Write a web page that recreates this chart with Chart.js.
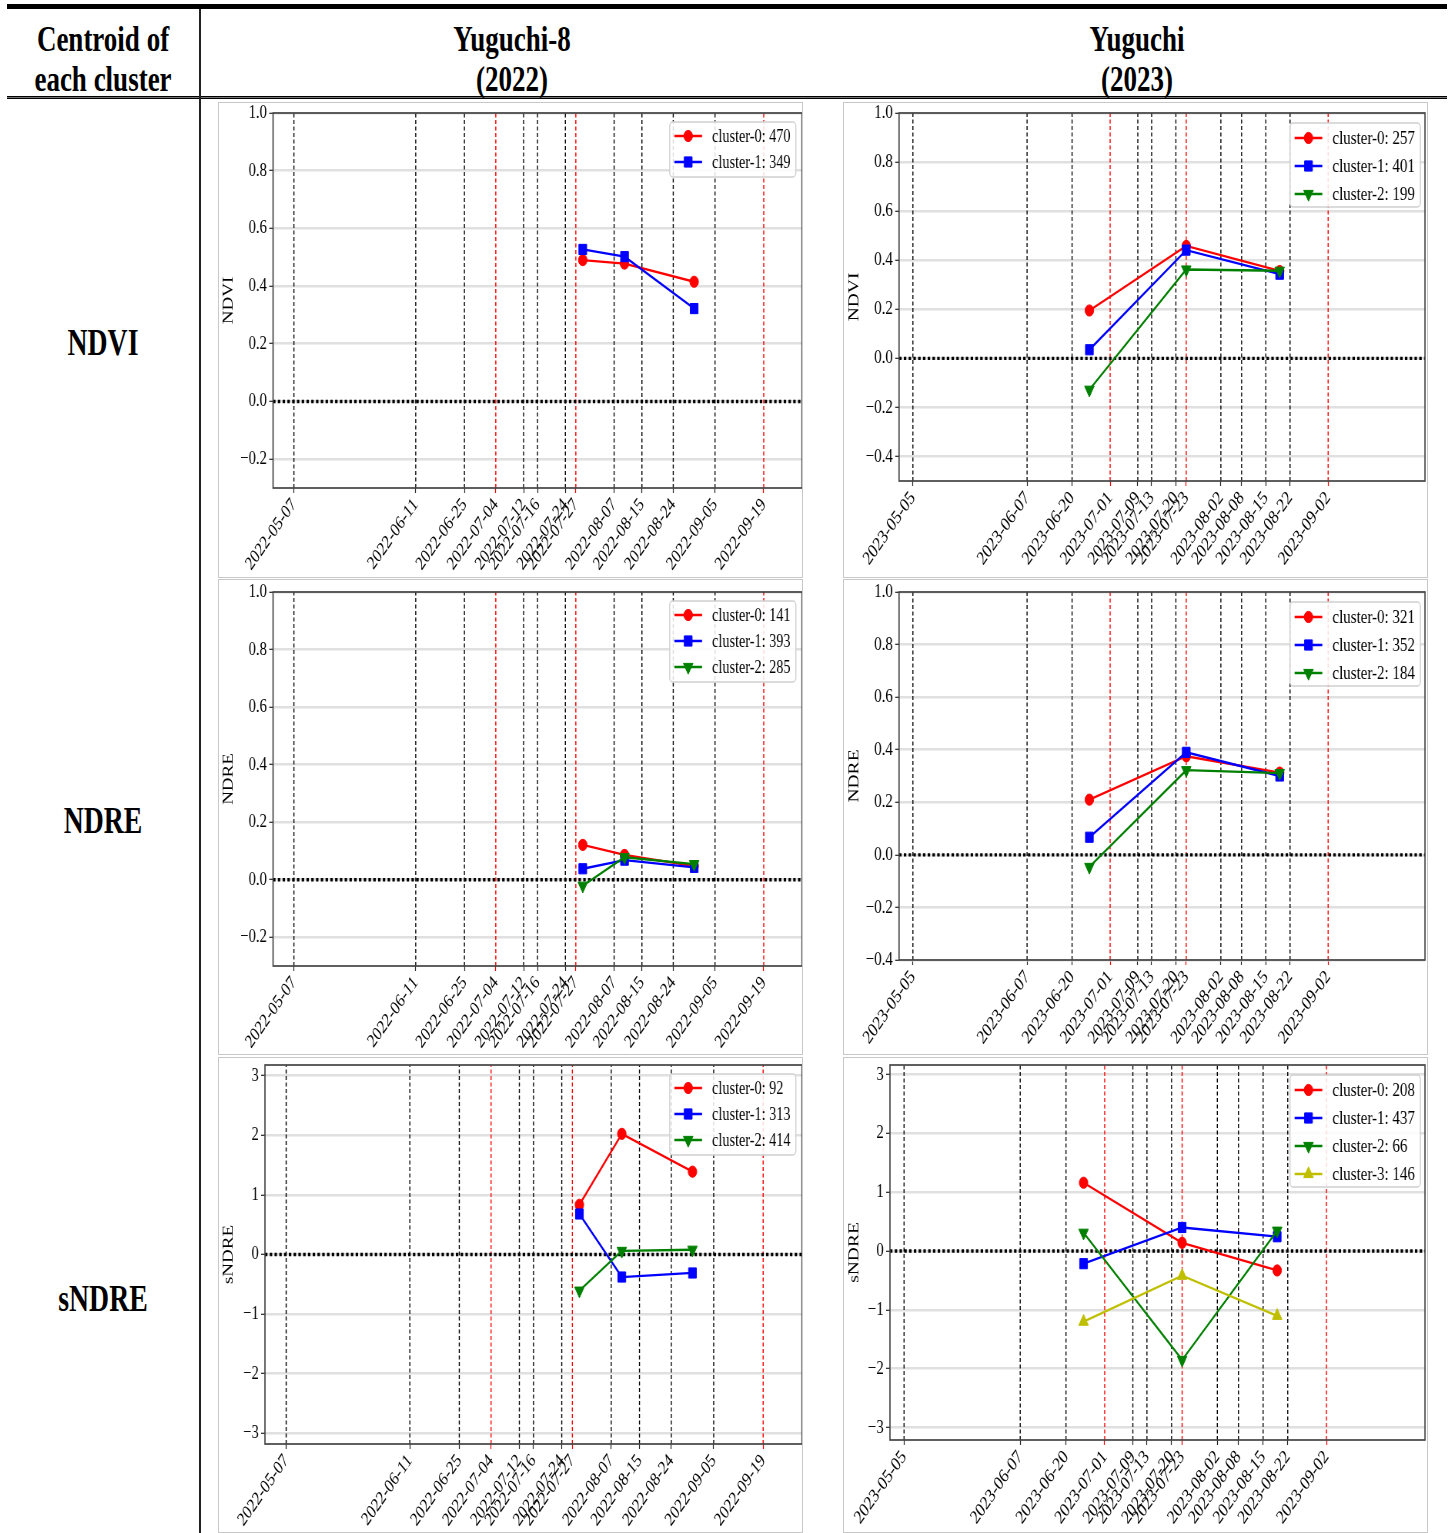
<!DOCTYPE html>
<html><head><meta charset="utf-8">
<script src="https://cdn.jsdelivr.net/npm/chart.js"></script>
<style>
html,body{margin:0;padding:0;background:#fff;}
body{width:1452px;height:1533px;position:relative;overflow:hidden;font-family:"Liberation Serif","Times New Roman",serif;color:#000;}
.rule{position:absolute;background:#000;}
.hd{position:absolute;font-weight:bold;font-size:36px;line-height:36px;white-space:nowrap;transform:translate(-50%,-50%) scaleX(0.75);}
.panel{position:absolute;width:585px;height:475px;overflow:hidden;}
.inner{position:absolute;left:0;top:0;width:760px;height:475px;transform:scaleX(0.769737);transform-origin:0 0;}
.frame{position:absolute;width:585px;height:476px;box-sizing:border-box;border:1.5px solid #c8c8c8;}
</style></head>
<body>
<div class="rule" style="left:7px;top:4px;width:1440px;height:5px"></div>
<div class="rule" style="left:7px;top:96px;width:1440px;height:1px"></div>
<div class="rule" style="left:7px;top:97px;width:1440px;height:1px;background:#777"></div>
<div class="rule" style="left:7px;top:98px;width:1440px;height:1px"></div>
<div class="rule" style="left:199px;top:9px;width:1.5px;height:1524px;background:#222"></div>

<div class="hd" style="left:103px;top:39px">Centroid of</div>
<div class="hd" style="left:103px;top:79px">each cluster</div>
<div class="hd" style="left:512px;top:39px">Yuguchi-8</div>
<div class="hd" style="left:512px;top:79px">(2022)</div>
<div class="hd" style="left:1137px;top:39px">Yuguchi</div>
<div class="hd" style="left:1137px;top:79px">(2023)</div>
<div class="hd" style="left:103px;top:343px;font-size:37px">NDVI</div>
<div class="hd" style="left:103px;top:821px;font-size:37px">NDRE</div>
<div class="hd" style="left:103px;top:1299px;font-size:37px">sNDRE</div>

<div class="panel" style="left:218px;top:103px"><div class="inner"><canvas id="cA" width="760" height="475"></canvas></div></div>
<div class="panel" style="left:843px;top:103px"><div class="inner"><canvas id="cB" width="760" height="475"></canvas></div></div>
<div class="panel" style="left:218px;top:580px"><div class="inner"><canvas id="cC" width="760" height="475"></canvas></div></div>
<div class="panel" style="left:843px;top:580px"><div class="inner"><canvas id="cD" width="760" height="475"></canvas></div></div>
<div class="panel" style="left:218px;top:1058px"><div class="inner"><canvas id="cE" width="760" height="475"></canvas></div></div>
<div class="panel" style="left:843px;top:1058px"><div class="inner"><canvas id="cF" width="760" height="475"></canvas></div></div>
<div class="frame" style="left:218px;top:102px"></div>
<div class="frame" style="left:843px;top:102px"></div>
<div class="frame" style="left:218px;top:579px"></div>
<div class="frame" style="left:843px;top:579px"></div>
<div class="frame" style="left:218px;top:1057px"></div>
<div class="frame" style="left:843px;top:1057px"></div>

<script>
// ---------------- DATA ----------------
const DATES_2022 = ['2022-07-29', '2022-08-10', '2022-08-30'];
const DATES_2023 = ['2023-06-25', '2023-07-23', '2023-08-19'];

const X_TICKS_2022 = ['2022-05-07','2022-06-11','2022-06-25','2022-07-04','2022-07-12','2022-07-16','2022-07-24','2022-07-27','2022-08-07','2022-08-15','2022-08-24','2022-09-05','2022-09-19'];
const RED_DATES_2022 = ['2022-07-04','2022-07-27','2022-09-19'];
const X_TICKS_2023 = ['2023-05-05','2023-06-07','2023-06-20','2023-07-01','2023-07-09','2023-07-13','2023-07-20','2023-07-23','2023-08-02','2023-08-08','2023-08-15','2023-08-22','2023-09-02'];
const RED_DATES_2023 = ['2023-07-01','2023-07-23','2023-09-02'];
const X_RANGE_2022 = ['2022-05-01', '2022-09-30'];
const X_RANGE_2023 = ['2023-05-01', '2023-09-30'];

const Y_TICKS_A = [-0.2, 0.0, 0.2, 0.4, 0.6, 0.8, 1.0];
const Y_TICKS_B = [-0.4, -0.2, 0.0, 0.2, 0.4, 0.6, 0.8, 1.0];
const Y_TICKS_S = [-3, -2, -1, 0, 1, 2, 3];

const NDVI_2022_LABELS = ['cluster-0: 470', 'cluster-1: 349'];
const NDVI_2022_C0 = [0.490, 0.478, 0.415];
const NDVI_2022_C1 = [0.527, 0.502, 0.322];

const NDVI_2023_LABELS = ['cluster-0: 257', 'cluster-1: 401', 'cluster-2: 199'];
const NDVI_2023_C0 = [0.195, 0.458, 0.356];
const NDVI_2023_C1 = [0.035, 0.441, 0.343];
const NDVI_2023_C2 = [-0.128, 0.362, 0.357];

const NDRE_2022_LABELS = ['cluster-0: 141', 'cluster-1: 393', 'cluster-2: 285'];
const NDRE_2022_C0 = [0.121, 0.086, 0.047];
const NDRE_2022_C1 = [0.038, 0.068, 0.043];
const NDRE_2022_C2 = [-0.021, 0.078, 0.054];

const NDRE_2023_LABELS = ['cluster-0: 321', 'cluster-1: 352', 'cluster-2: 184'];
const NDRE_2023_C0 = [0.210, 0.375, 0.313];
const NDRE_2023_C1 = [0.067, 0.390, 0.300];
const NDRE_2023_C2 = [-0.046, 0.322, 0.311];

const SNDRE_2022_LABELS = ['cluster-0: 92', 'cluster-1: 313', 'cluster-2: 414'];
const SNDRE_2022_C0 = [0.835, 2.025, 1.390];
const SNDRE_2022_C1 = [0.680, -0.378, -0.310];
const SNDRE_2022_C2 = [-0.607, 0.060, 0.080];

const SNDRE_2023_LABELS = ['cluster-0: 208', 'cluster-1: 437', 'cluster-2: 66', 'cluster-3: 146'];
const SNDRE_2023_C0 = [1.160, 0.140, -0.330];
const SNDRE_2023_C1 = [-0.215, 0.400, 0.243];
const SNDRE_2023_C2 = [0.310, -1.850, 0.345];
const SNDRE_2023_C3 = [-1.200, -0.420, -1.100];

// ---------------- STYLE ----------------
const COLORS = ['#ff0000', '#0000ff', '#008000', '#bfbf00'];
const POINT_STYLES = ['circle', 'rect', 'triangle', 'triangle'];
const POINT_ROT = [0, 0, 180, 0];
const POINT_R = [5.6, 7.2, 7.2, 7.2];
const FONT = '"Liberation Serif", "Times New Roman", serif';

function toDay(s) {
  return Date.UTC(+s.slice(0, 4), +s.slice(5, 7) - 1, +s.slice(8, 10)) / 86400000;
}
function fmtY(v, dec) {
  const t = Math.abs(v).toFixed(dec);
  return (v < -1e-9 ? '\u2212' : '') + t;
}

const framePlugin = {
  id: 'frameBox',
  afterDatasetsDraw(chart) {
    const ca = chart.chartArea, ctx = chart.ctx;
    ctx.save();
    ctx.strokeStyle = '#444';
    ctx.lineWidth = 1.7;
    ctx.strokeRect(ca.left, ca.top, ca.right - ca.left, ca.bottom - ca.top);
    ctx.restore();
  }
};

const legendPlugin = {
  id: 'boxLegend',
  afterDraw(chart) {
    const o = chart.options.plugins.boxLegend;
    const ctx = chart.ctx, ca = chart.chartArea;
    const items = chart.data.datasets.filter(d => d.inLegend);
    ctx.save();
    ctx.font = o.fs + 'px ' + FONT;
    const tw = Math.max(...items.map(d => ctx.measureText(d.label).width));
    const padL = 6, handle = 36, gap = 13, padR = 7;
    const w = padL + handle + gap + tw + padR;
    const h = o.first + (items.length - 1) * o.row + o.last;
    const x = ca.right - o.mr - w, y = ca.top + o.mt;
    const r = 4;
    ctx.beginPath();
    ctx.moveTo(x + r, y); ctx.lineTo(x + w - r, y); ctx.arcTo(x + w, y, x + w, y + r, r);
    ctx.lineTo(x + w, y + h - r); ctx.arcTo(x + w, y + h, x + w - r, y + h, r);
    ctx.lineTo(x + r, y + h); ctx.arcTo(x, y + h, x, y + h - r, r);
    ctx.lineTo(x, y + r); ctx.arcTo(x, y, x + r, y, r); ctx.closePath();
    ctx.fillStyle = 'rgba(255,255,255,0.85)'; ctx.fill();
    ctx.strokeStyle = '#d0d0d0'; ctx.lineWidth = 1.4; ctx.stroke();
    items.forEach((d, i) => {
      const cy = y + o.first + i * o.row;
      ctx.strokeStyle = d.borderColor; ctx.lineWidth = d.borderWidth;
      ctx.beginPath(); ctx.moveTo(x + padL, cy); ctx.lineTo(x + padL + handle, cy); ctx.stroke();
      ctx.fillStyle = d.backgroundColor; ctx.strokeStyle = d.borderColor; ctx.lineWidth = 1;
      Chart.helpers.drawPoint(ctx, {pointStyle: d.pointStyle, rotation: d.pointRotation || 0, radius: d.pointRadius, borderWidth: 1}, x + padL + handle / 2, cy);
      ctx.fillStyle = '#000'; ctx.textAlign = 'left'; ctx.textBaseline = 'middle';
      ctx.fillText(d.label, x + padL + handle + gap, cy + 1);
    });
    ctx.restore();
  }
};

function makeChart(spec) {
  const xmin = toDay(spec.xr[0]), xmax = toDay(spec.xr[1]);
  const datasets = [];
  spec.series.forEach((vals, i) => {
    datasets.push({
      label: spec.labels[i], inLegend: true,
      data: spec.dates.map((d, j) => ({x: toDay(d), y: vals[j]})),
      borderColor: COLORS[i], backgroundColor: COLORS[i],
      pointBackgroundColor: COLORS[i], pointBorderColor: COLORS[i],
      pointStyle: POINT_STYLES[i], pointRotation: POINT_ROT[i], pointRadius: POINT_R[i],
      pointBorderWidth: 1, borderWidth: 2.3, tension: 0, order: -i
    });
  });
  datasets.push({
    label: 'zero', data: [{x: xmin, y: 0}, {x: xmax, y: 0}],
    borderColor: '#000', borderWidth: 3.4, borderDash: [3.2, 3], pointRadius: 0, order: 5
  });
  spec.ticks.forEach(d => {
    const red = spec.red.includes(d);
    datasets.push({
      label: 'ref ' + d, data: [{x: toDay(d), y: spec.yMin}, {x: toDay(d), y: spec.yMax}],
      borderColor: red ? '#ff0000' : '#000', borderWidth: 1.4, borderDash: [4, 2.5],
      pointRadius: 0, order: 10
    });
  });
  const L = spec.lay;
  return new Chart(document.getElementById(spec.id), {
    type: 'line',
    data: {datasets},
    plugins: [framePlugin, legendPlugin],
    options: {
      responsive: false, animation: false, events: [],
      layout: {autoPadding: false, padding: {left: 0, right: L.right, top: L.top, bottom: 0}},
      plugins: {legend: {display: false}, tooltip: {enabled: false},
        boxLegend: spec.leg},
      scales: {
        x: {
          type: 'linear', min: xmin, max: xmax,
          afterBuildTicks: (ax) => { ax.ticks = spec.ticks.map(d => ({value: toDay(d)})); },
          afterFit: (ax) => { ax.height = L.bottom; ax.paddingLeft = 0; ax.paddingRight = 0; ax.paddingTop = 0; ax.paddingBottom = 0; },
          ticks: {
            autoSkip: false, minRotation: 48, maxRotation: 48, padding: 1,
            color: '#000', font: {family: FONT, size: spec.tfs},
            callback: (v, i) => spec.ticks[i]
          },
          grid: {drawOnChartArea: false, drawTicks: true, tickLength: 5, tickWidth: 1.2,
            tickColor: (c) => (c.tick && spec.red.map(toDay).includes(c.tick.value)) ? '#ff0000' : '#222'},
          border: {display: false}
        },
        y: {
          type: 'linear', min: spec.yMin, max: spec.yMax,
          afterBuildTicks: (ax) => { ax.ticks = spec.yTicks.map(v => ({value: v})); },
          afterFit: (ax) => { ax.width = L.left; ax.paddingTop = 0; ax.paddingBottom = 0; ax.paddingLeft = 0; ax.paddingRight = 0; },
          ticks: {padding: 3, color: '#000', font: {family: FONT, size: spec.tfs},
            callback: (v) => fmtY(v, spec.dec)},
          grid: {color: '#e0e0e0', lineWidth: 2.6, drawTicks: true, tickLength: 5, tickWidth: 1.2, tickColor: '#222'},
          border: {display: false},
          title: {display: true, text: spec.title, color: '#000', font: {family: FONT, size: spec.tfs}, padding: {top: 3, bottom: 3}}
        }
      }
    }
  });
}

const LEG22 = {fs: 18.5, row: 26, first: 14, last: 15, mt: 9, mr: 8};
const LEG23 = {fs: 19.5, row: 28, first: 15, last: 13, mt: 10, mr: 6};

const SPECS = [
  {id: 'cA', title: 'NDVI', dates: DATES_2022, ticks: X_TICKS_2022, red: RED_DATES_2022, xr: X_RANGE_2022,
   series: [NDVI_2022_C0, NDVI_2022_C1], labels: NDVI_2022_LABELS, yTicks: Y_TICKS_A, yMin: -0.3, yMax: 1.0, dec: 1,
   tfs: 19, lay: {left: 71.5, right: 1.3, top: 10, bottom: 90}, leg: LEG22},
  {id: 'cB', title: 'NDVI', dates: DATES_2023, ticks: X_TICKS_2023, red: RED_DATES_2023, xr: X_RANGE_2023,
   series: [NDVI_2023_C0, NDVI_2023_C1, NDVI_2023_C2], labels: NDVI_2023_LABELS, yTicks: Y_TICKS_B, yMin: -0.5, yMax: 1.0, dec: 1,
   tfs: 19.5, lay: {left: 72.8, right: 3.9, top: 10, bottom: 97}, leg: LEG23},
  {id: 'cC', title: 'NDRE', dates: DATES_2022, ticks: X_TICKS_2022, red: RED_DATES_2022, xr: X_RANGE_2022,
   series: [NDRE_2022_C0, NDRE_2022_C1, NDRE_2022_C2], labels: NDRE_2022_LABELS, yTicks: Y_TICKS_A, yMin: -0.3, yMax: 1.0, dec: 1,
   tfs: 19, lay: {left: 71.5, right: 1.3, top: 12, bottom: 89}, leg: LEG22},
  {id: 'cD', title: 'NDRE', dates: DATES_2023, ticks: X_TICKS_2023, red: RED_DATES_2023, xr: X_RANGE_2023,
   series: [NDRE_2023_C0, NDRE_2023_C1, NDRE_2023_C2], labels: NDRE_2023_LABELS, yTicks: Y_TICKS_B, yMin: -0.4, yMax: 1.0, dec: 1,
   tfs: 19.5, lay: {left: 72.8, right: 3.9, top: 12, bottom: 95}, leg: LEG23},
  {id: 'cE', title: 'sNDRE', dates: DATES_2022, ticks: X_TICKS_2022, red: RED_DATES_2022, xr: X_RANGE_2022,
   series: [SNDRE_2022_C0, SNDRE_2022_C1, SNDRE_2022_C2], labels: SNDRE_2022_LABELS, yTicks: Y_TICKS_S, yMin: -3.18, yMax: 3.18, dec: 0,
   tfs: 19, lay: {left: 61, right: 1.3, top: 7, bottom: 89}, leg: LEG22},
  {id: 'cF', title: 'sNDRE', dates: DATES_2023, ticks: X_TICKS_2023, red: RED_DATES_2023, xr: X_RANGE_2023,
   series: [SNDRE_2023_C0, SNDRE_2023_C1, SNDRE_2023_C2, SNDRE_2023_C3], labels: SNDRE_2023_LABELS, yTicks: Y_TICKS_S, yMin: -3.21, yMax: 3.16, dec: 0,
   tfs: 19.5, lay: {left: 61, right: 3.9, top: 7, bottom: 93}, leg: LEG23}
];

SPECS.forEach(makeChart);
</script>
</body></html>
